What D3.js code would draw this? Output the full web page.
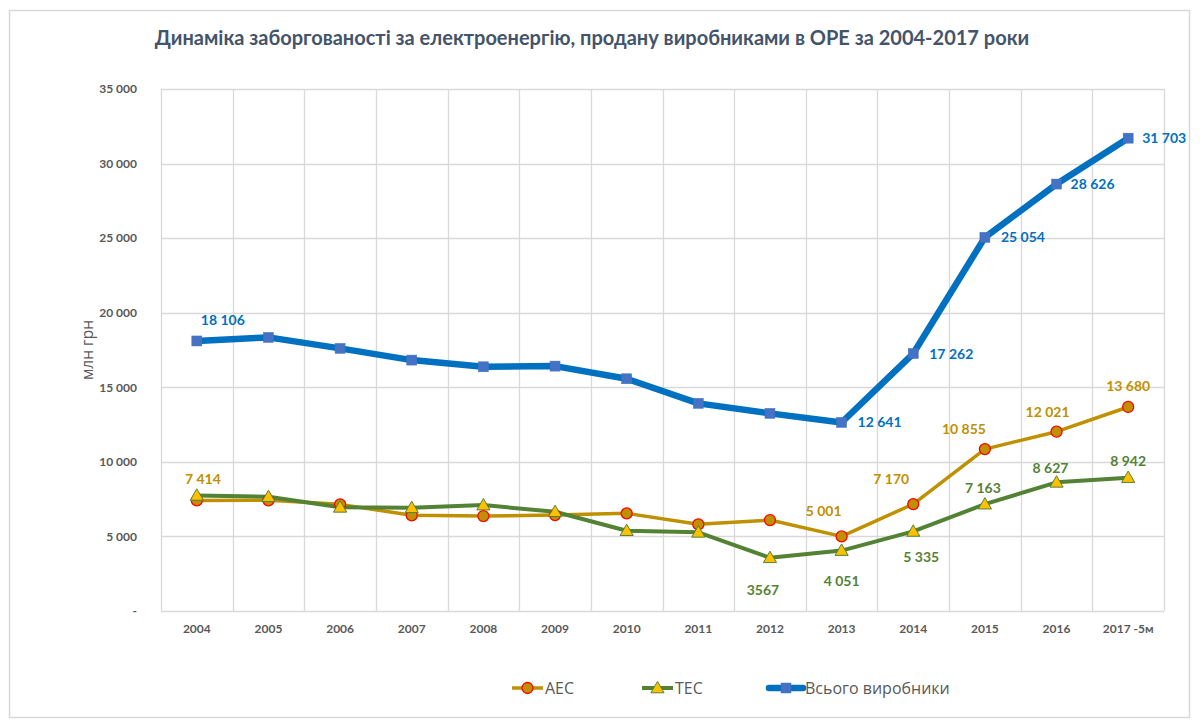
<!DOCTYPE html>
<html>
<head>
<meta charset="utf-8">
<script src="https://cdn.jsdelivr.net/npm/d3@7"></script>
<style>
  html, body { margin: 0; padding: 0; background: #fff; }
  svg { display: block; }
</style>
</head>
<body>
<svg id="chart" width="1200" height="728"></svg>
<script>
// ---- data ----
const categories = ["2004","2005","2006","2007","2008","2009","2010","2011","2012","2013","2014","2015","2016","2017 -5м"];
const aesValues   = [7414, 7420, 7150, 6414, 6367, 6434, 6546, 5810, 6099, 5001, 7170, 10855, 12021, 13680];
const tesValues   = [7750, 7660, 6950, 6920, 7100, 6655, 5382, 5275, 3567, 4051, 5335, 7163, 8627, 8942];
const totalValues = [18106, 18345, 17607, 16823, 16374, 16420, 15570, 13921, 13251, 12641, 17262, 25054, 28626, 31703];
const yTicks = [0, 5000, 10000, 15000, 20000, 25000, 30000, 35000];
const seriesNames = ["АЕС", "ТЕС", "Всього виробники"];
// which points carry a data label, and the label text
const aesLabels   = [[0,"7 414"],[9,"5 001"],[10,"7 170"],[11,"10 855"],[12,"12 021"],[13,"13 680"]];
const tesLabels   = [[8,"3567"],[9,"4 051"],[10,"5 335"],[11,"7 163"],[12,"8 627"],[13,"8 942"]];
const totalLabels = [[0,"18 106"],[9,"12 641"],[10,"17 262"],[11,"25 054"],[12,"28 626"],[13,"31 703"]];
const titleText = "Динаміка заборгованості за електроенергію, продану виробниками в ОРЕ за 2004-2017 роки";
const yAxisTitle = "млн грн";

// ---- layout / style ----
const svg = d3.select("#chart");
const plot = {left: 161, right: 1164, top: 89, bottom: 611};
const font = "Lato, 'Open Sans', sans-serif";
const gray = "#595959";

// label placement (style): offsets relative to point, anchor
const placeAES   = {0:[6,-16,"middle"],9:[-18,-20,"middle"],10:[-22,-20,"middle"],11:[-21,-15,"middle"],12:[-9,-15,"middle"],13:[0,-16,"middle"]};
const placeTES   = {8:[-7,37,"middle"],9:[0,35,"middle"],10:[8,31,"middle"],11:[-2,-11,"middle"],12:[-6,-9,"middle"],13:[0,-12,"middle"]};
const placeTotal = {0:[26,-16,"middle"],9:[16,5,"start"],10:[16,5,"start"],11:[16,5,"start"],12:[14,5,"start"],13:[14,5,"start"]};

// outer frame
svg.append("rect").attr("x", 9.5).attr("y", 10.5).attr("width", 1180).attr("height", 707)
  .attr("fill", "#fff").attr("stroke", "#D9D9D9").attr("stroke-width", 1.5);

// scales
const x = d3.scaleBand().domain(categories).range([plot.left, plot.right]).padding(0);
const y = d3.scaleLinear().domain([0, 35000]).range([plot.bottom, plot.top]);
const cx = d => x(d) + x.bandwidth() / 2;

// gridlines
const g = svg.append("g");
g.selectAll("line.h").data(yTicks).enter().append("line")
  .attr("x1", plot.left).attr("x2", plot.right)
  .attr("y1", d => Math.round(y(d)) + 0.5).attr("y2", d => Math.round(y(d)) + 0.5)
  .attr("stroke", "#D9D9D9").attr("stroke-width", 1.3);
const vEdges = categories.map(c => x(c)).concat([plot.right]);
g.selectAll("line.v").data(vEdges).enter().append("line")
  .attr("x1", d => Math.round(d) + 0.5).attr("x2", d => Math.round(d) + 0.5)
  .attr("y1", plot.top).attr("y2", plot.bottom)
  .attr("stroke", "#D9D9D9").attr("stroke-width", 1.3);

// y axis
const yAxis = d3.axisLeft(y).tickValues(yTicks).tickSize(0).tickPadding(0)
  .tickFormat(d => d === 0 ? "-" : d3.format(",")(d).replace(/,/g, " "));
const ya = svg.append("g").attr("transform", `translate(${plot.left - 24},0)`).call(yAxis);
ya.select(".domain").remove();
ya.selectAll("text").attr("font-family", font).attr("font-size", 12).attr("font-weight", "bold").attr("fill", gray);

// x axis
const xAxis = d3.axisBottom(x).tickSize(0).tickPadding(0);
const xa = svg.append("g").attr("transform", `translate(0,${plot.bottom + 13})`).call(xAxis);
xa.select(".domain").remove();
xa.selectAll("text").attr("font-family", font).attr("font-size", 12).attr("font-weight", "bold").attr("fill", gray);

// y axis title
svg.append("text").attr("transform", `translate(93,350) rotate(-90)`)
  .attr("text-anchor", "middle").attr("font-family", "'Open Sans', sans-serif").attr("font-size", 15.5)
  .attr("fill", gray).text(yAxisTitle);

// title
svg.append("text").attr("x", 592).attr("y", 45).attr("text-anchor", "middle")
  .attr("font-family", font).attr("font-size", 20).attr("font-weight", "bold")
  .attr("fill", "#44546A").text(titleText);

// series
const series = [
  {name: seriesNames[0], values: aesValues, color: "#BF9000", width: 3.5, marker: "circle", mfill: "#BF9000", mstroke: "#FF0000", labels: aesLabels, place: placeAES, lcolor: "#BF9000"},
  {name: seriesNames[1], values: tesValues, color: "#548235", width: 4, marker: "triangle", mfill: "#FFC000", mstroke: "#548235", labels: tesLabels, place: placeTES, lcolor: "#548235"},
  {name: seriesNames[2], values: totalValues, color: "#0070C0", width: 6.5, marker: "square", mfill: "#4472C4", mstroke: "#4472C4", labels: totalLabels, place: placeTotal, lcolor: "#0070C0"}
];

const line = d3.line().x((d, i) => cx(categories[i])).y(d => y(d));

function drawMarker(sel, type, fill, stroke) {
  if (type === "circle") {
    sel.append("circle").attr("r", 5.5).attr("fill", fill).attr("stroke", stroke).attr("stroke-width", 1.3);
  } else if (type === "triangle") {
    sel.append("path").attr("d", d3.symbol().type(d3.symbolTriangle).size(75)()).attr("transform", "translate(0,1)")
      .attr("fill", fill).attr("stroke", stroke).attr("stroke-width", 1);
  } else {
    sel.append("rect").attr("x", -5).attr("y", -5).attr("width", 10).attr("height", 10)
      .attr("fill", fill).attr("stroke", stroke).attr("stroke-width", 0.5);
  }
}

series.forEach(s => {
  svg.append("path").datum(s.values).attr("d", line).attr("fill", "none")
    .attr("stroke", s.color).attr("stroke-width", s.width).attr("stroke-linejoin", "round");
});
series.forEach(s => {
  s.values.forEach((v, i) => {
    const m = svg.append("g").attr("transform", `translate(${cx(categories[i])},${y(v)})`);
    drawMarker(m, s.marker, s.mfill, s.mstroke);
  });
});
series.forEach(s => {
  s.labels.forEach(([i, txt]) => {
    const p = s.place[i];
    svg.append("text").attr("x", cx(categories[i]) + p[0]).attr("y", y(s.values[i]) + p[1])
      .attr("text-anchor", p[2]).attr("font-family", font).attr("font-size", 14).attr("font-weight", "bold")
      .attr("fill", s.lcolor).text(txt);
  });
});

// legend
const legendX = [512, 642, 769];
series.forEach((s, k) => {
  const lg = svg.append("g").attr("transform", `translate(${legendX[k]},688)`);
  const len = k === 2 ? 34 : 31;
  lg.append("line").attr("x1", 0).attr("x2", len).attr("y1", 0).attr("y2", 0)
    .attr("stroke", s.color).attr("stroke-width", s.width).attr("stroke-linecap", k === 2 ? "round" : "butt");
  const m = lg.append("g").attr("transform", `translate(${len / 2},0)`);
  drawMarker(m, s.marker, s.mfill, s.mstroke);
  lg.append("text").attr("x", len + 2).attr("y", 6).attr("font-family", "'Open Sans', sans-serif").attr("font-size", 16)
    .attr("fill", gray).text(s.name);
});
</script>
</body>
</html>
